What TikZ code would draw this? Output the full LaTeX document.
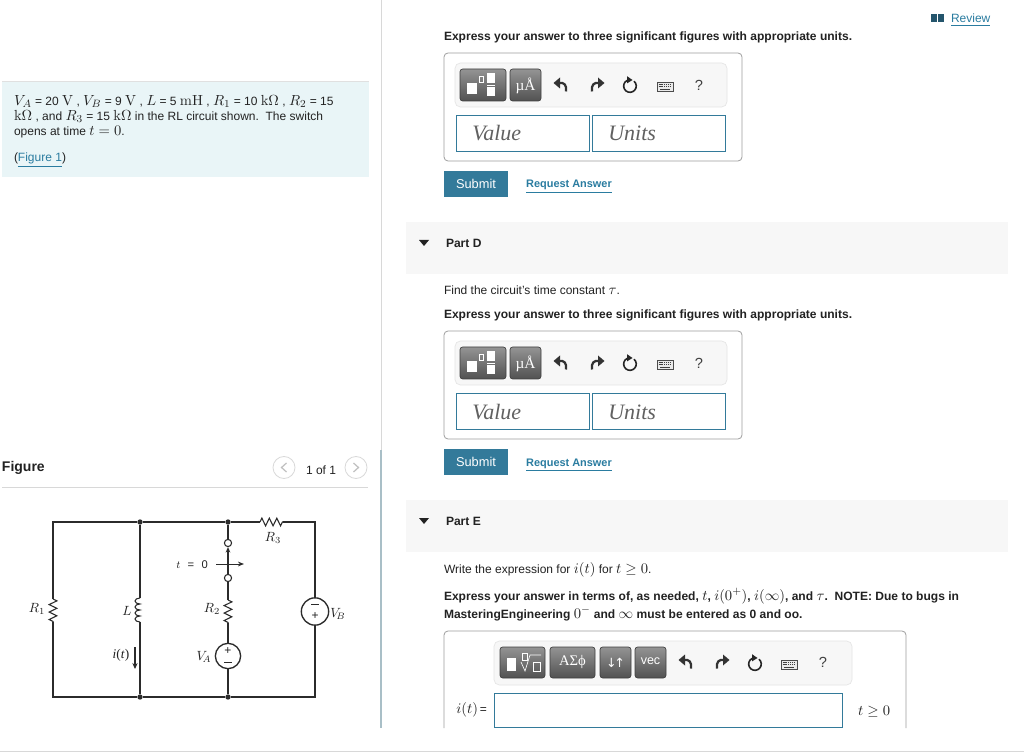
\documentclass[tikz,border=0pt]{standalone}
\usepackage[no-math]{fontspec}
\setmainfont{Liberation Sans}
\newfontfamily\serifui{Liberation Serif}
\newfontfamily\dejavu{DejaVu Sans}
\usetikzlibrary{decorations.pathmorphing,arrows.meta,shapes.misc}
\definecolor{ink}{HTML}{222222}
\definecolor{link}{HTML}{2A7CA0}
\definecolor{subm}{HTML}{337A9A}
\definecolor{band}{HTML}{F7F7F7}
\definecolor{note}{HTML}{E9F5F7}
\definecolor{wire}{HTML}{2B2B2B}
\definecolor{rulec}{HTML}{D8D8D8}
\newcommand{\ui}{\fontsize{9}{11}\selectfont}
\newcommand{\uib}{\fontsize{9.03}{11}\selectfont\bfseries}
\newcommand{\mm}[1]{{\fontsize{11}{12}\selectfont$#1$}}
\newcommand{\cm}[1]{{\fontsize{9.6}{10}\selectfont$#1$}}
\tikzset{
  x=0.75pt,y=-0.75pt,
  txt/.style={inner sep=0,outer sep=0,anchor=base west,font=\ui,text=ink},
  btxt/.style={txt,font=\uib},
  linktxt/.style={inner sep=0,anchor=base,font=\fontsize{8.2}{10}\selectfont\bfseries,text=link},
  panel/.style={draw=black!38,line width=0.6pt,rounded corners=3pt,fill=white},
  bar/.style={draw=black!10,line width=0.5pt,fill=band,rounded corners=4pt},
  tbtn/.style={draw=black!75,line width=0.5pt,rounded corners=2pt,top color=black!42,bottom color=black!68},
  field/.style={draw=subm,line width=0.7pt,fill=white},
  ph/.style={inner sep=0,anchor=base west,font=\serifui\itshape\fontsize{16.5}{18}\selectfont,text=black!62},
  btnw/.style={inner sep=0,text=white},
  quest/.style={inner sep=0,font=\fontsize{11}{12}\selectfont,text=black!75},
  submit/.style={fill=subm,inner sep=0,minimum width=48pt,minimum height=19.5pt,text=white,font=\fontsize{9.6}{11}\selectfont},
  wireline/.style={draw=wire,line width=1.05pt},
  terminal/.style={circle,draw=wire,line width=0.8pt,fill=white,inner sep=0,minimum size=5.4pt},
  source/.style={circle,draw=wire,line width=1pt,fill=white,inner sep=0},
  dot/.style={circle,fill=wire,inner sep=0,minimum size=4pt},
  rzig/.style={wireline,line width=0.8pt,decorate,decoration={zigzag,segment length=5.6pt,amplitude=2.9pt}},
  clabel/.style={inner sep=0,font=\fontsize{9}{10}\selectfont,text=ink},
  navc/.style={circle,draw=black!15,line width=0.6pt,inner sep=0,minimum size=16.5pt,fill=white},
}
\newcommand{\undoicon}[3]{\begin{scope}[shift={(#1,#2)},xscale=#3]
  \fill[black!80] (-7.5,-2) -- (-1,-7.5) -- (-1,3.5) -- cycle;
  \draw[black!80,line width=1.7pt] (-2,-2) .. controls (3,-3) and (6,0) .. (5,6.5);
\end{scope}}
\newcommand{\reloadicon}[2]{\begin{scope}[shift={(#1,#2)}]
  \draw[black!85,line width=1.2pt] (4,-4.8) arc[start angle=-50,end angle=250,radius=6.3];
  \fill[black!85] (-3,-9.8) -- (2.5,-6) -- (-3,-2.6) -- cycle;
\end{scope}}
\newcommand{\kbicon}[2]{\begin{scope}[shift={(#1,#2)}]
  \draw[black!70,line width=0.5pt,fill=black!8] (-8,-4.5) rectangle (8,4.5);
  \draw[black!75,line width=0.8pt,dash pattern=on 0.9pt off 0.5pt] (-6.5,-2.5) -- (6.5,-2.5);
  \draw[black!75,line width=0.8pt,dash pattern=on 0.9pt off 0.5pt] (-6.5,-0.2) -- (6.5,-0.2);
  \draw[black!75,line width=0.9pt] (-5,2.4) -- (5,2.4);
\end{scope}}
\newcommand{\answerblock}[2]{\begin{scope}[shift={(0,#1)}]
  \draw[panel] (444,53) rectangle (742,161);
  \draw[bar] (455,63) rectangle (727,107);
  \draw[tbtn] (460,69) rectangle (506,101);
  \fill[white] (467,83) rectangle (477,94);
  \draw[white,line width=0.4pt] (479,76) rectangle (483,82);
  \fill[white] (487,73) rectangle (495,83);
  \draw[white,line width=0.6pt] (487,85) -- (495,85);
  \fill[white] (487,87) rectangle (495,96);
  \draw[tbtn] (510,69) rectangle (541,101);
  \node[btnw,font=\serifui\fontsize{11.5}{13}\selectfont] (#2mu) at (525.5,86) {µÅ};
  \undoicon{561}{85}{1}
  \undoicon{597}{85}{-1}
  \reloadicon{630}{86}
  \kbicon{665}{87}
  \node[quest] (#2q) at (699,85) {?};
  \draw[field] (456,115) rectangle (589.5,151);
  \draw[field] (592,115) rectangle (725.5,151);
  \node[ph] (#2val) at (472,141) {Value};
  \node[ph] (#2unit) at (608,141) {Units};
  \node[submit] (#2sub) at (476,184) {Submit};
  \node[linktxt] (#2req) at (569,188) {\underline{Request Answer}};
\end{scope}}
\begin{document}
\begin{tikzpicture}
\useasboundingbox (0,0) rectangle (1024,755);
\fill[white] (0,0) rectangle (1024,755);
% separators
\draw[rulec,line width=0.7pt] (381,0) -- (381,450);
\draw[black!15!note!80!subm,line width=0.9pt] (381,450) -- (381,728);
\draw[rulec,line width=0.7pt] (0,751.5) -- (1024,751.5);
% left note
\fill[note] (2,81) rectangle (369,177);
\draw[black!12,line width=0.6pt] (2,81) -- (369,81);
\node[txt] (l1) at (14,105.5) {\mm{V_A} = 20 \mm{\mathrm{V}} , \mm{V_B} = 9 \mm{\mathrm{V}} , \mm{L} = 5 \mm{\mathrm{mH}} , \mm{R_1} = 10 \mm{\mathrm{k\Omega}} , \mm{R_2} = 15};
\node[txt] (l2) at (14,120.5) {\mm{\mathrm{k\Omega}} , and \mm{R_3} = 15 \mm{\mathrm{k\Omega}} in the RL circuit shown.\ \ The switch};
\node[txt] (l3) at (14,135.5) {opens at time \mm{t=0}.};
\node[txt] (l4) at (14,162) {(\textcolor{link}{\underline{Figure 1}})};
% figure header
\node[txt,font=\fontsize{10.5}{12}\selectfont\bfseries] (figt) at (2,471) {Figure};
\draw[rulec,line width=0.6pt] (2,487.5) -- (368,487.5);
\node[navc] (prev) at (284,467.5) {};
\node[navc] (next) at (356,467.5) {};
\draw[black!25,line width=0.9pt] (286.5,463) -- (281.5,467.5) -- (286.5,472);
\draw[black!25,line width=0.9pt] (353.5,463) -- (358.5,467.5) -- (353.5,472);
\node[txt] (pg) at (306,474) {1 of 1};
% circuit
\coordinate (tl) at (53,522);
\coordinate (bl) at (53,697);
\coordinate (tr) at (315,522);
\coordinate (br) at (315,697);
\node[dot] (j1) at (140,522) {};
\node[dot] (j2) at (228,522) {};
\node[dot] (j3) at (140,697) {};
\node[dot] (j4) at (228,697) {};
\coordinate (r1a) at (53,599); \coordinate (r1b) at (53,622);
\coordinate (la) at (140,598); \coordinate (lb) at (140,622);
\coordinate (r2a) at (228,600); \coordinate (r2b) at (228,623);
\coordinate (r3a) at (260,522); \coordinate (r3b) at (283,522);
\node[terminal] (s1) at (228,543) {};
\node[terminal] (s2) at (228,578) {};
\node[source,minimum size=19pt] (va) at (228,656) {};
\node[source,minimum size=20.5pt] (vb) at (315,611.5) {};
\draw[wireline] (r1a) -- (tl) -- (j1) -- (j2) -- (r3a);
\draw[wireline] (r3b) -- (tr) -- (vb);
\draw[wireline] (vb) -- (br) -- (j4) -- (j3) -- (bl) -- (r1b);
\draw[wireline] (j1) -- (la);
\draw[wireline] (lb) -- (j3);
\draw[wireline] (j2) -- (s1);
\draw[wireline] (s2) -- (r2a);
\draw[wireline] (r2b) -- (va);
\draw[wireline] (va) -- (j4);
\draw[rzig] (r1a) -- (r1b);
\draw[rzig] (r2a) -- (r2b);
\draw[rzig] (r3a) -- (r3b);
\draw[wireline,line width=0.8pt] (la)
  arc[start angle=-90,end angle=-270,x radius=5,y radius=3]
  arc[start angle=-90,end angle=-270,x radius=5,y radius=3]
  arc[start angle=-90,end angle=-270,x radius=5,y radius=3]
  arc[start angle=-90,end angle=-270,x radius=5,y radius=3];
% switch arrows
\coordinate (swl) at (216,564);
\coordinate (swr) at (244,564);
\draw[wireline,line width=0.7pt,-{Stealth[length=4.5pt,width=3.5pt]}] (swl) -- (swr);
\draw[wireline,line width=0.8pt,-{Stealth[length=4pt,width=3.5pt]}] (s2) -- (s1);
\node[clabel,font=\fontsize{8.4}{9}\selectfont,anchor=base west] (tz) at (176,568) {$t$\hspace{5.5pt}=\hspace{5.5pt}0};
% current arrow
\coordinate (ia) at (135,647);
\coordinate (ib) at (135,669);
\draw[wireline,line width=0.9pt,-{Stealth[length=4.5pt,width=4pt]}] (ia) -- (ib);
\node[clabel,font=\serifui\fontsize{10}{11}\selectfont] (il) at (121,655.5) {\textit{i}(\textit{t})};
% source signs
\node[clabel,font=\fontsize{9}{10}\selectfont] (vap) at (228,651) {+};
\draw[wire,line width=0.6pt] (224,662) -- (232,662);
\draw[wire,line width=0.6pt] (311,604) -- (319,604);
\node[clabel,font=\fontsize{9}{10}\selectfont] (vbp) at (315,616) {+};
% circuit labels
\node[clabel] (lr1) at (37,609) {\cm{R_1}};
\node[clabel] (ll) at (127,611) {\cm{L}};
\node[clabel] (lr2) at (212,609) {\cm{R_2}};
\node[clabel] (lr3) at (273,538) {\cm{R_3}};
\node[clabel] (lva) at (204,657) {\cm{V_{\!A}}};
\node[clabel] (lvb) at (338,614) {\cm{V_{\!B}}};
% right column
\node[btxt] (h1) at (444,41) {Express your answer to three significant figures with appropriate units.};
\answerblock{0}{a}
\fill[band] (406,222) rectangle (1008,274);
\fill[ink] (419,240) -- (429,240) -- (424,246) -- cycle;
\node[btxt] (pd) at (446,247.5) {Part D};
\node[txt] (q1) at (444,295) {Find the circuit's time constant \mm{\tau}.};
\node[btxt] (h2) at (444,319) {Express your answer to three significant figures with appropriate units.};
\answerblock{278}{b}
\fill[band] (406,500) rectangle (1008,552);
\fill[ink] (419,518) -- (429,518) -- (424,524) -- cycle;
\node[btxt] (pe) at (446,525.5) {Part E};
\node[txt] (q2) at (444,573) {Write the expression for \mm{i(t)} for \mm{t\geq 0}.};
\node[btxt] (h3) at (444,600) {Express your answer in terms of, as needed, \mm{t}, \mm{i(0^+)}, \mm{i(\infty)}, and \mm{\tau}.\ \ NOTE: Due to bugs in};
\node[btxt] (h4) at (444,618) {MasteringEngineering \mm{0^-} and \mm{\infty} must be entered as 0 and oo.};
% last answer panel
\draw[draw=black!38,line width=0.6pt,rounded corners=3pt] (444,728) -- (444,631) -- (906,631) -- (906,728);
\draw[bar] (494,641) rectangle (852,685);
\draw[tbtn] (500,647) rectangle (545,678);
\fill[white] (507,658) rectangle (516,671);
\draw[white,line width=0.4pt] (522,653) rectangle (527,660);
\draw[white,line width=0.5pt] (521,662) -- (525,671) -- (530,655) -- (541,655);
\draw[white,line width=0.4pt] (533,662) rectangle (540,671);
\draw[tbtn] (550,647) rectangle (595,678);
\node[btnw,font=\serifui\fontsize{11}{12}\selectfont] (gr) at (572.5,662) {ΑΣϕ};
\draw[tbtn] (600,647) rectangle (631,678);
\node[btnw,font=\dejavu\fontsize{9.5}{11}\selectfont] (ud) at (615.5,663) {↓\kern-1.8pt↑};
\draw[tbtn] (635,647) rectangle (666,678);
\node[btnw,font=\fontsize{9.4}{11}\selectfont] (vc) at (650.5,661) {vec};
\undoicon{686}{662}{1}
\undoicon{722}{662}{-1}
\reloadicon{755}{664}
\kbicon{789}{665}
\node[quest] (cq) at (823,662) {?};
\draw[field] (494,693) rectangle (842.5,727.5);
\node[txt,anchor=east] (ieq) at (487,710) {\mm{i(t)}\,=};
\node[txt] (tge) at (858,715) {\mm{t\geq 0}};
% review
\fill[black!30!subm] (931,14.5) rectangle (936.5,22);
\fill[black!30!subm] (938,14.5) rectangle (943.5,22);
\node[txt,font=\fontsize{9}{11}\selectfont,text=link] (rev) at (951,23) {\underline{Review}};
\end{tikzpicture}
\end{document}
